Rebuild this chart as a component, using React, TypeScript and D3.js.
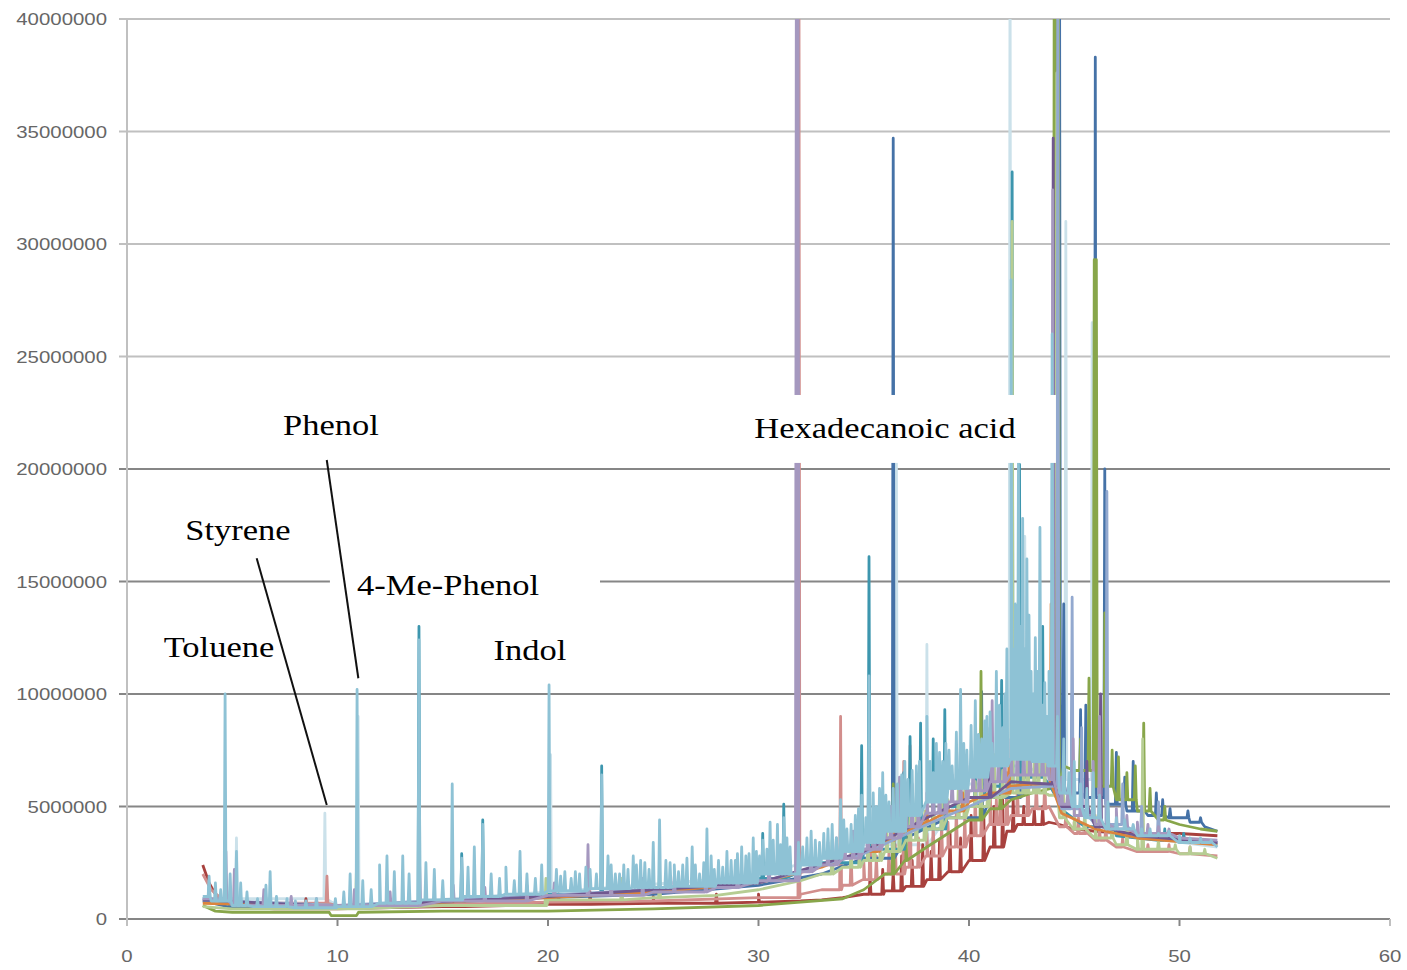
import React, { useRef, useEffect } from 'react';
import * as d3 from 'd3';

// axis ticks
const xTicks = [0, 10, 20, 30, 40, 50, 60];
const yTicks = [0, 5000000, 10000000, 15000000, 20000000, 25000000, 30000000, 35000000, 40000000];

// every series: baseline points and peaks, [retention time (min), abundance (millions)]
const paleBase = [[3.6, 0.9], [10, 0.6], [20, 1.2], [30, 1.9], [35, 3.3], [40, 6.0], [42, 6.8], [44, 6.2], [46, 3.9], [51.8, 3.2]];
const palePeaks = [[5.2, 3.6], [9.4, 4.7], [10.98, 9.0], [20.12, 7.3], [36.55, 21.0], [38.0, 12.2], [41.95, 45], [42.65, 17.0], [44.6, 31.0], [45.85, 26.5]];

const redBase = [[3.6, 2.4], [3.9, 1.6], [4.2, 1.1], [4.6, 0.8], [5.0, 0.55], [7, 0.45], [10, 0.45], [12, 0.5], [15, 0.55], [18, 0.6], [20, 0.65], [25, 0.7], [30, 0.75], [32, 0.8], [33, 0.85], [34, 0.95], [35, 1.1], [36, 1.25], [37, 1.45], [38, 1.75], [39, 2.1], [40, 2.6], [41, 3.2], [41.8, 3.9], [42.3, 4.2], [43, 4.2], [43.8, 4.3], [44.3, 4.2], [45, 4.0], [46, 3.9], [48, 3.8], [50, 3.8], [51.8, 3.7]];
const redPeaks = [[8.5, 0.9], [16, 1.0], [20.5, 1.1], [22, 1.2], [25, 1.0], [28, 1.1], [30, 1.1], [35.3, 1.9], [35.9, 2.2], [36.4, 2.1], [36.8, 2.8], [37.3, 2.6], [37.8, 3.3], [38.2, 3.0], [38.6, 3.5], [39.1, 3.8], [39.6, 3.6], [40.1, 4.6], [40.7, 4.8], [41.2, 5.0], [41.6, 5.3], [42.1, 5.3], [42.6, 5.0], [43.1, 4.9], [43.5, 5.0], [45, 4.3]];

const pinkBase = [[3.6, 2.0], [4.0, 1.3], [4.5, 0.9], [5, 0.7], [10, 0.6], [15, 0.65], [20, 0.75], [25, 0.8], [30, 0.95], [32, 1.1], [33, 1.3], [34, 1.5], [35, 1.75], [36, 2.0], [37, 2.3], [38, 2.8], [39, 3.2], [40, 3.7], [41, 4.2], [42, 4.6], [43, 4.9], [43.8, 5.0], [44.3, 4.1], [45, 3.8], [46, 3.5], [47, 3.2], [48, 3.0], [50, 2.9], [51.8, 2.8]];
const pinkPeaks = [[9.5, 1.9], [31.92, 45], [33.9, 9.0], [34.4, 3.0], [35.0, 2.6], [35.3, 4.0], [35.6, 2.8], [36.2, 3.0], [36.5, 3.3], [36.9, 7.0], [37.2, 7.7], [37.6, 3.6], [38.0, 3.8], [38.3, 4.3], [38.7, 4.2], [39.0, 4.3], [39.4, 5.0], [39.8, 4.6], [40.3, 5.8], [40.6, 5.0], [41.0, 6.2], [41.3, 5.3], [41.5, 5.6], [41.8, 6.5], [42.3, 5.9], [42.8, 7.0], [43.2, 6.0], [43.6, 6.2], [44.6, 4.6], [45.2, 4.5], [45.6, 4.1], [46.2, 4.0], [46.5, 4.2], [47.3, 3.6], [48, 3.6], [48.5, 3.3], [49.5, 3.3], [50.5, 3.2]];

const blueBase = [[3.6, 0.8], [5, 0.5], [10, 0.55], [15, 0.75], [20, 0.95], [25, 1.1], [30, 1.5], [33, 2.0], [35, 2.7], [37, 3.6], [39, 4.5], [41, 5.4], [43, 6.0], [44, 5.9], [44.6, 5.6], [45.5, 5.4], [46.5, 5.1], [47.5, 4.8], [48.5, 4.6], [49.5, 4.5], [50.5, 4.3], [51.2, 4.1], [51.8, 3.9]];
const bluePeaks = [[36.4, 34.7], [40.6, 10.1], [42.4, 9.0], [44.3, 45], [44.5, 14.0], [44.9, 10.0], [45.3, 9.3], [45.55, 9.5], [46.0, 38.3], [46.45, 20.0], [47.0, 7.4], [47.4, 6.3], [47.8, 7.0], [48.3, 5.8], [48.9, 5.6], [49.2, 5.3], [49.55, 4.9], [50.4, 4.8], [51.0, 4.5]];

const greenBase = [[3.6, 0.6], [4.2, 0.35], [5.0, 0.3], [8, 0.3], [9.6, 0.3], [9.7, 0.15], [10.9, 0.15], [11.0, 0.3], [15, 0.35], [20, 0.35], [25, 0.45], [30, 0.6], [32, 0.75], [34, 0.9], [35, 1.3], [36, 2.0], [37, 2.6], [38, 3.2], [39, 3.8], [40, 4.4], [41, 4.9], [42, 5.3], [43, 5.6], [43.9, 5.8], [44.5, 6.8], [45, 6.6], [46, 5.9], [47, 5.3], [48, 4.8], [49, 4.4], [50, 4.2], [51, 4.0], [51.8, 3.9]];
const greenPeaks = [[36.4, 6.0], [37.0, 4.0], [40.57, 11.0], [41.5, 6.5], [44.05, 45], [44.15, 45], [44.25, 45], [45.3, 8.0], [45.7, 10.7], [45.95, 29.3], [46.05, 29.3], [46.45, 13.6], [46.8, 7.5], [47.1, 7.2], [47.5, 6.5], [47.9, 6.8], [48.3, 8.7], [48.6, 5.8], [49.3, 5.0]];

const tealBase = [[3.6, 0.9], [5, 0.6], [10, 0.6], [15, 0.85], [20, 1.1], [25, 1.25], [30, 1.8], [33, 2.5], [35, 3.1], [37, 4.0], [39, 5.0], [41, 5.9], [42.5, 6.3], [43.8, 6.0], [44.5, 4.8], [45.5, 4.1], [47, 3.7], [49, 3.5], [51.8, 3.35]];
const tealPeaks = [[3.9, 1.5], [13.87, 13.0], [15.9, 2.9], [16.9, 4.4], [22.55, 6.8], [30.2, 3.8], [31.2, 5.1], [34.9, 7.7], [35.25, 16.1], [35.8, 5.4], [36.9, 6.5], [37.2, 8.1], [37.7, 8.7], [38.3, 8.0], [38.85, 9.3], [40.3, 7.5], [41.55, 10.6], [42.05, 33.2], [42.4, 20.2], [43.5, 13.0], [46.9, 4.2], [49.3, 4.0], [50.2, 3.8]];

const lightGreenBase = [[3.6, 0.55], [5, 0.45], [10, 0.45], [15, 0.6], [20, 0.85], [25, 0.95], [28, 1.05], [30, 1.3], [32, 1.7], [33, 2.0], [34, 2.3], [35, 2.6], [36, 3.0], [37, 3.5], [38, 4.0], [39, 4.5], [40, 5.0], [41, 5.4], [42, 5.6], [43, 5.6], [43.8, 5.5], [44.3, 4.5], [45, 4.0], [46, 3.6], [47, 3.3], [48, 3.1], [50, 2.9], [51.8, 2.7]];
const lightGreenPeaks = [[10.9, 2.2], [19.9, 1.8], [23.5, 1.8], [25.3, 2.2], [33.5, 3.5], [34.4, 2.9], [34.8, 3.1], [35.2, 3.3], [35.5, 4.5], [35.8, 3.6], [36.1, 3.9], [36.4, 5.0], [36.7, 4.2], [37.2, 4.6], [37.5, 5.5], [37.9, 4.8], [38.3, 5.0], [38.7, 6.0], [39.0, 5.3], [39.5, 6.2], [39.8, 5.8], [40.3, 6.1], [40.57, 7.0], [40.9, 6.3], [41.2, 7.3], [41.6, 6.6], [42.05, 31.0], [42.3, 6.8], [42.6, 7.0], [42.8, 8.2], [43.1, 7.2], [43.3, 8.0], [43.6, 7.0], [44.17, 37.6], [44.5, 5.5], [45.0, 5.2], [45.5, 4.8], [46.0, 4.6], [46.8, 4.2], [47.5, 4.0], [48.0, 3.8], [48.25, 8.0], [49, 3.5], [49.8, 3.3], [50.5, 3.2], [51.2, 3.1]];

const orangeBase = [[3.6, 0.7], [10, 0.55], [20, 0.95], [25, 1.2], [30, 1.6], [33, 2.3], [35, 3.0], [36, 3.5], [37, 3.9], [38, 4.3], [39, 4.8], [40, 5.2], [41, 5.6], [42, 5.9], [43, 6.0], [43.8, 5.9], [44.4, 4.7], [46, 4.0], [48, 3.6], [51.8, 3.3]];
const orangePeaks = [[35.7, 4.1], [36.4, 4.0], [38.0, 4.8], [39.7, 5.6], [41.9, 6.9], [43.9, 14.0]];

const greyBlueBase = [[3.6, 0.85], [10, 0.6], [20, 1.05], [30, 1.6], [35, 2.9], [38, 4.2], [40, 5.0], [42, 5.8], [43.8, 5.9], [44.4, 4.9], [46, 4.2], [48, 3.8], [50, 3.6], [51.8, 3.4]];
const greyBluePeaks = [[44.22, 45], [44.9, 14.3], [45.35, 8.5], [46.55, 19.0], [47.3, 6.0], [48.2, 5.0], [49.0, 5.2]];

const darkPurpleBase = [[3.6, 0.85], [10, 0.55], [20, 1.0], [30, 1.6], [35, 3.0], [38, 4.5], [40, 5.4], [42, 6.1], [43.8, 6.0], [44.4, 5.0], [46, 4.1], [48, 3.7], [51.8, 3.4]];
const darkPurplePeaks = [[41.0, 8.5], [44.0, 34.7], [45.6, 7.0], [46.25, 10.0]];

const lightPurpleBase = [[3.6, 0.9], [5, 0.6], [10, 0.6], [15, 0.8], [20, 1.05], [25, 1.2], [28, 1.4], [30, 1.7], [32, 2.1], [33, 2.4], [34, 2.7], [35, 3.1], [36, 3.6], [37, 4.1], [38, 4.7], [39, 5.2], [40, 5.7], [41, 6.1], [42, 6.4], [43, 6.4], [43.8, 6.2], [44.3, 5.1], [45, 4.6], [46, 4.2], [47, 4.0], [48, 3.8], [50, 3.6], [51.8, 3.5]];
const lightPurplePeaks = [
  [4.7, 3.0], [5.1, 2.2], [6.5, 1.3], [7.8, 1.0], [9.0, 0.9], [10.8, 1.3], [12.5, 1.2], [13.9, 2.4], [15.5, 1.5], [17, 1.4], [19, 1.5], [20.3, 1.6], [21.9, 3.3], [23, 1.7], [24.5, 1.8], [26, 1.9], [27.5, 2.0], [29, 2.3], [30.5, 2.5], [31.8, 45], [31.88, 45], [32.5, 2.9],
  [33.3, 3.4], [33.7, 3.6], [34.1, 3.5], [34.5, 3.9], [34.8, 3.8], [35.2, 4.2], [35.5, 4.3], [35.8, 4.6], [36.0, 5.0], [36.3, 5.0], [36.7, 6.3], [37.0, 5.4], [37.3, 6.0], [37.6, 5.8], [38.0, 5.6], [38.3, 6.0], [38.6, 6.3], [38.9, 7.0], [39.2, 6.4], [39.6, 8.0], [39.9, 6.8], [40.2, 7.0], [40.5, 7.4], [40.8, 7.0], [41.1, 9.7], [41.4, 7.5], [41.7, 7.8], [42.0, 8.0], [42.3, 9.0], [42.6, 7.8], [42.9, 8.2], [43.2, 7.5], [43.5, 7.6], [43.75, 7.2], [43.98, 32.4],
  [44.4, 6.3], [44.7, 5.8], [44.95, 8.0], [45.3, 5.4], [45.6, 5.3], [45.9, 7.0], [46.2, 9.0], [46.6, 5.0], [47.0, 4.9], [47.5, 4.6], [48.0, 4.3], [48.5, 4.2], [49, 4.1], [49.5, 4.0]
];

const lightBlueBase = [[3.6, 1.0], [4.0, 0.8], [5.0, 0.6], [6.0, 0.55], [8.0, 0.5], [10.0, 0.55], [12.0, 0.7], [14.0, 0.85], [16.0, 1.0], [18.0, 1.1], [20.0, 1.25], [22, 1.35], [24, 1.4], [26, 1.45], [28, 1.6], [30, 2.0], [32, 2.4], [33, 2.7], [34, 3.0], [35, 3.4], [36, 3.9], [37, 4.6], [38, 5.2], [39, 5.8], [40, 6.3], [41, 6.8], [42, 7.1], [43, 7.0], [43.8, 6.8], [44.3, 5.6], [44.9, 5.0], [45.5, 4.5], [46.5, 4.0], [48, 3.7], [50, 3.4], [51.8, 3.2]];
const lightBluePeaks = [
  [3.9, 1.9], [4.2, 1.6], [4.45, 1.3], [4.66, 10.0], [4.9, 2.0], [5.2, 3.0], [5.4, 1.6], [5.7, 1.2], [6.2, 0.9], [6.6, 1.5], [6.8, 2.1], [7.1, 1.0], [7.6, 0.9], [8.0, 0.8], [8.5, 0.8], [9.0, 0.9], [9.9, 0.9],
  [10.3, 1.2], [10.6, 2.0], [10.93, 10.2], [11.2, 1.7], [11.6, 1.3], [12.0, 2.4], [12.35, 2.8], [12.7, 2.1], [13.1, 2.8], [13.4, 2.0], [13.87, 12.4], [14.2, 2.5], [14.6, 2.2], [15.0, 1.7], [15.45, 6.0], [15.9, 2.7], [16.2, 2.3], [16.5, 3.2], [16.9, 4.2], [17.3, 2.0], [17.7, 1.8], [18.0, 2.3], [18.4, 1.7], [18.67, 3.0], [19.0, 2.0], [19.4, 1.8], [19.7, 2.4],
  [20.05, 10.4], [20.4, 2.2], [20.6, 1.9], [20.8, 2.1], [21.1, 1.8], [21.3, 2.1], [21.5, 2.0], [21.8, 2.3], [22.0, 2.2], [22.3, 2.0], [22.55, 6.4], [22.85, 2.8], [23.0, 2.4], [23.2, 2.0], [23.4, 2.0], [23.6, 2.4], [23.8, 2.2], [24.05, 2.8], [24.2, 2.4], [24.4, 2.6], [24.6, 2.5], [24.8, 2.2], [25.0, 3.4], [25.3, 4.4], [25.6, 2.6], [25.8, 2.5], [26.0, 2.4], [26.2, 2.1], [26.4, 2.4], [26.6, 2.7], [26.85, 3.2], [27.0, 2.4], [27.2, 2.0], [27.4, 2.5], [27.55, 4.0], [27.75, 2.8], [27.9, 2.2],
  [28.1, 2.6], [28.3, 2.3], [28.5, 3.0], [28.7, 2.6], [28.9, 2.6], [29.0, 2.9], [29.2, 3.2], [29.4, 2.8], [29.55, 2.9], [29.75, 3.6], [29.9, 3.0], [30.05, 2.8], [30.2, 3.5], [30.4, 3.1], [30.55, 4.3], [30.7, 3.5], [30.9, 4.2], [31.05, 3.3], [31.2, 4.5], [31.35, 3.6], [31.5, 3.2], [31.9, 3.4], [32.1, 3.2], [32.3, 3.6], [32.5, 3.9], [32.7, 3.5], [32.9, 3.4], [33.1, 3.8], [33.3, 4.0], [33.5, 4.2], [33.7, 3.6], [33.9, 5.3], [34.05, 4.4], [34.2, 4.0], [34.4, 4.2], [34.6, 4.6], [34.75, 4.9], [34.9, 5.5], [35.1, 4.5], [35.25, 10.8], [35.45, 5.6], [35.6, 5.0], [35.75, 5.8], [35.9, 6.5], [36.05, 5.5], [36.2, 5.2], [36.4, 5.8], [36.6, 6.0], [36.8, 6.4], [36.95, 7.0], [37.1, 6.2], [37.3, 6.6], [37.5, 6.8], [37.65, 7.0], [38.0, 9.0], [38.15, 7.0], [38.3, 6.5], [38.45, 7.8], [38.6, 7.4], [38.75, 7.0], [38.9, 7.8], [39.05, 7.5], [39.2, 6.8], [39.4, 8.3], [39.6, 10.2], [39.75, 7.8], [39.9, 7.5],
  [40.1, 8.6], [40.3, 9.7], [40.45, 8.2], [40.6, 8.0], [40.75, 8.8], [40.85, 9.0], [41.0, 9.2], [41.1, 7.8], [41.3, 11.0], [41.45, 9.5], [41.6, 8.5], [41.7, 10.0], [41.8, 12.0], [42.0, 28.4], [42.1, 12.0], [42.2, 14.0], [42.35, 20.3], [42.45, 13.0], [42.55, 17.8], [42.65, 12.0], [42.75, 16.0], [42.85, 13.5], [42.95, 11.0], [43.05, 10.0], [43.15, 12.5], [43.25, 11.0], [43.37, 17.4], [43.5, 9.5], [43.6, 10.5], [43.7, 9.0], [43.8, 11.0], [43.95, 26.0],
  [44.2, 9.0], [44.5, 8.0], [44.75, 6.5], [45.0, 7.0], [45.3, 6.0], [45.6, 5.8], [45.9, 6.5], [46.2, 5.5], [46.6, 5.2], [47.0, 4.5], [47.4, 4.4], [47.8, 4.2], [48.2, 4.0], [48.6, 4.0], [49.0, 3.8], [49.5, 3.9], [50.0, 3.7], [50.5, 3.6], [51.0, 3.6], [51.5, 3.5]
];

// drawing order, bottom to top
const seriesOrder = ['pale', 'red', 'pink', 'blue', 'green', 'teal', 'lightGreen', 'orange', 'greyBlue', 'darkPurple', 'lightPurple', 'lightBlue'];
const seriesData = {
  pale: [paleBase, palePeaks],
  red: [redBase, redPeaks],
  pink: [pinkBase, pinkPeaks],
  blue: [blueBase, bluePeaks],
  green: [greenBase, greenPeaks],
  teal: [tealBase, tealPeaks],
  lightGreen: [lightGreenBase, lightGreenPeaks],
  orange: [orangeBase, orangePeaks],
  greyBlue: [greyBlueBase, greyBluePeaks],
  darkPurple: [darkPurpleBase, darkPurplePeaks],
  lightPurple: [lightPurpleBase, lightPurplePeaks],
  lightBlue: [lightBlueBase, lightBluePeaks],
};
const seriesColors = {
  pale: '#cbe1ea', red: '#a8413e', pink: '#d28e8c', blue: '#4572a7', green: '#88a64a', teal: '#3d96ae',
  lightGreen: '#b6cd93', orange: '#db843d', greyBlue: '#93a9cf', darkPurple: '#71588f', lightPurple: '#a598bf', lightBlue: '#8ec2d5',
};

// compound labels, placed in data units (time, millions)
const labelTexts = ['Toluene', 'Styrene', 'Phenol', '4-Me-Phenol', 'Indol', 'Hexadecanoic acid'];
const labelTimes = [4.37, 5.27, 9.69, 15.25, 19.14, 36.01];
const labelLevels = [11.64, 16.84, 21.5, 14.4, 11.51, 21.38];
const leaderLines = [[6.16, 16.03, 9.49, 5.07], [9.49, 20.4, 10.99, 10.7]];
const labelBoxes = [[9.64, 22.47, 13.96, 15.96], [29.36, 44.13, 20.27, 23.29]];

// baseline + spikes, spike foot taken from the preceding baseline point
const buildPoints = (base, peaks) => {
  const pts = base.map(d => [d[0], d[1]]);
  peaks.forEach(([t, h]) => {
    const prev = base.filter(d => d[0] <= t);
    const foot = prev.length ? prev[prev.length - 1][1] : base[0][1];
    pts.push([t - 0.045, foot], [t, h], [t + 0.045, foot]);
  });
  return pts.sort((a, b) => a[0] - b[0]);
};

const Chromatogram = ({ width = 1407, height = 970 }) => {
  const svgRef = useRef(null);

  useEffect(() => {
    const M = 1000000;
    const svg = d3.select(svgRef.current).attr('width', width).attr('height', height);
    svg.selectAll('*').remove();

    const x = d3.scaleLinear().domain([0, 60]).range([127, 1390]);
    const y = d3.scaleLinear().domain([0, 40000000]).range([919, 19]);

    svg.append('defs').append('clipPath').attr('id', 'plot-clip')
      .append('rect')
      .attr('x', x(0)).attr('y', y(40000000))
      .attr('width', x(60) - x(0)).attr('height', y(0) - y(40000000));

    // horizontal gridlines (top ones are lighter in the original)
    svg.append('g').selectAll('line').data(yTicks).join('line')
      .attr('x1', x(0) - 8).attr('x2', x(60))
      .attr('y1', d => y(d)).attr('y2', d => y(d))
      .attr('stroke', d => (d >= 25000000 ? '#c0c0c0' : '#868686'))
      .attr('stroke-width', 2);

    // vertical axis
    svg.append('line')
      .attr('x1', x(0)).attr('x2', x(0))
      .attr('y1', y(40000000)).attr('y2', y(0) + 7)
      .attr('stroke', '#c0c0c0').attr('stroke-width', 2);

    // x ticks
    svg.append('g').selectAll('line').data(xTicks.slice(1)).join('line')
      .attr('x1', d => x(d)).attr('x2', d => x(d))
      .attr('y1', y(0)).attr('y2', y(0) + 7)
      .attr('stroke', d => (d === 60 ? '#c0c0c0' : '#868686')).attr('stroke-width', 2);

    // tick labels
    svg.append('g').selectAll('text').data(yTicks).join('text')
      .attr('transform', d => `translate(${x(0) - 20},${y(d) + 6}) scale(1.2,1)`)
      .attr('text-anchor', 'end')
      .style('font-family', '"Liberation Sans", Arial, sans-serif')
      .style('font-size', '17px')
      .style('fill', '#666')
      .text(d => String(d));

    svg.append('g').selectAll('text').data(xTicks).join('text')
      .attr('transform', d => `translate(${x(d)},${y(0) + 43}) scale(1.2,1)`)
      .attr('text-anchor', 'middle')
      .style('font-family', '"Liberation Sans", Arial, sans-serif')
      .style('font-size', '17px')
      .style('fill', '#666')
      .text(d => String(d));

    // --- Series ---
    const line = d3.line()
      .x(d => x(d[0]))
      .y(d => y(d[1] * M));

    const plot = svg.append('g').attr('clip-path', 'url(#plot-clip)');
    seriesOrder.forEach(key => {
      const [base, peaks] = seriesData[key];
      plot.append('path')
        .datum(buildPoints(base, peaks))
        .attr('fill', 'none')
        .attr('stroke', seriesColors[key])
        .attr('stroke-width', 2.8)
        .attr('stroke-linejoin', 'round')
        .attr('d', line);
    });

    // white label boxes that hide what lies under them
    svg.append('g').selectAll('rect').data(labelBoxes).join('rect')
      .attr('x', d => x(d[0])).attr('width', d => x(d[1]) - x(d[0]))
      .attr('y', d => y(d[3] * M)).attr('height', d => y(d[2] * M) - y(d[3] * M))
      .attr('fill', '#fff');

    // leader lines
    svg.append('g').selectAll('line').data(leaderLines).join('line')
      .attr('x1', d => x(d[0])).attr('y1', d => y(d[1] * M))
      .attr('x2', d => x(d[2])).attr('y2', d => y(d[3] * M))
      .attr('stroke', '#111').attr('stroke-width', 2);

    // compound names
    svg.append('g').selectAll('text').data(labelTexts).join('text')
      .attr('transform', (d, i) => `translate(${x(labelTimes[i])},${y(labelLevels[i] * M)}) scale(1.15,1)`)
      .attr('text-anchor', 'middle')
      .style('font-family', '"Liberation Serif", "Times New Roman", serif')
      .style('font-size', '30px')
      .style('fill', '#000')
      .text(d => d);
  }, [width, height]);

  return <svg ref={svgRef}></svg>;
};

export default function App() {
  return (
    <div style={{ position: 'absolute', left: 0, top: 0 }}>
      <Chromatogram />
    </div>
  );
}
